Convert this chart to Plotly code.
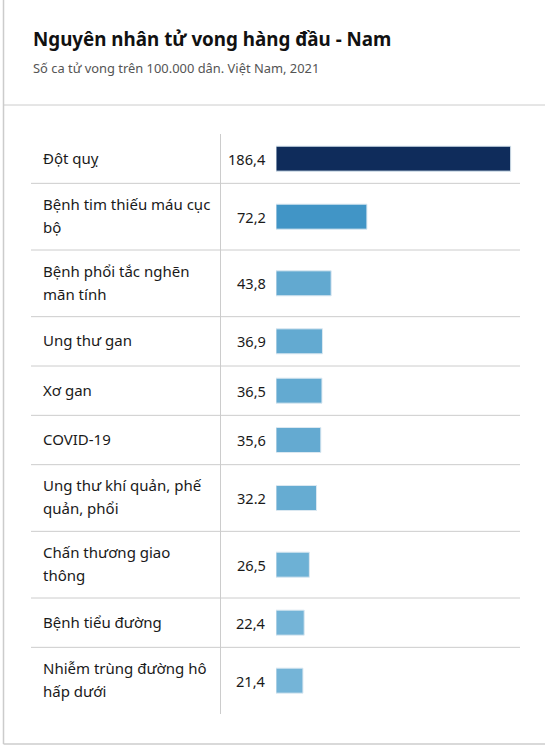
import plotly.graph_objects as go

# Data
categories = [
    "Đột quỵ",
    "Bệnh tim thiếu máu cục<br>bộ",
    "Bệnh phổi tắc nghẽn<br>mãn tính",
    "Ung thư gan",
    "Xơ gan",
    "COVID-19",
    "Ung thư khí quản, phế<br>quản, phổi",
    "Chấn thương giao<br>thông",
    "Bệnh tiểu đường",
    "Nhiễm trùng đường hô<br>hấp dưới",
]
values = [186.4, 72.2, 43.8, 36.9, 36.5, 35.6, 32.2, 26.5, 22.4, 21.4]
value_labels = ["186,4", "72,2", "43,8", "36,9", "36,5", "35,6", "32.2", "26,5", "22,4", "21,4"]
bar_colors = ["#0f2c5b", "#4195c6", "#62a9d0", "#63aad1", "#63aad1",
              "#64aad1", "#66acd2", "#6db1d5", "#74b4d7", "#74b4d7"]

W, H = 545, 746
FONT = "Noto Sans"

# Layout in pixels
TABLE_TOP = 134
ROW_1LINE = 49.33
ROW_2LINE = 66.67
LINE_GAP = 23
BAR_X0 = 276
PX_PER_UNIT = 234.7 / 186.4
GRID = "#cccccc"

# row positions from number of label lines
row_tops, row_centers = [], []
y = TABLE_TOP
for c in categories:
    h = ROW_2LINE if "<br>" in c else ROW_1LINE
    row_tops.append(y)
    row_centers.append(y + h / 2)
    y += h
table_bottom = y

fig = go.Figure()
fig.add_trace(go.Bar(
    x=values, y=row_centers, orientation="h", width=25,
    marker=dict(color=bar_colors, line=dict(color="#dbe8f1", width=1)),
    hoverinfo="skip",
))

annotations = []
shapes = []

# title + subtitle
annotations.append(dict(x=30.5 / W, y=39, xref="paper", yref="y", xanchor="left", yanchor="middle",
                        text="<b>Nguyên nhân tử vong hàng đầu - Nam</b>", showarrow=False,
                        font=dict(family=FONT, size=18.8, color="#111111")))
annotations.append(dict(x=30.5 / W, y=68, xref="paper", yref="y", xanchor="left", yanchor="middle",
                        text="Số ca tử vong trên 100.000 dân. Việt Nam, 2021", showarrow=False,
                        font=dict(family=FONT, size=12.9, color="#555555")))

for i, c in enumerate(categories):
    lines = c.split("<br>")
    offs = [0] if len(lines) == 1 else [-LINE_GAP / 2, LINE_GAP / 2]
    for ln, off in zip(lines, offs):
        annotations.append(dict(x=40.5 / W, y=row_centers[i] + off - 1, xref="paper", yref="y",
                                xanchor="left", yanchor="middle", text=ln, showarrow=False,
                                font=dict(family=FONT, size=15, color="#1a1a1a")))
    annotations.append(dict(x=267.5 / W, y=row_centers[i], xref="paper", yref="y",
                            xanchor="right", yanchor="middle", text=value_labels[i], showarrow=False,
                            font=dict(family=FONT, size=14.6, color="#1a1a1a")))
    if i > 0:
        shapes.append(dict(type="line", xref="paper", yref="y", x0=31 / W, x1=520 / W,
                           y0=row_tops[i], y1=row_tops[i], line=dict(color=GRID, width=1)))

# column divider
shapes.append(dict(type="line", xref="paper", yref="y", x0=220.5 / W, x1=220.5 / W,
                   y0=TABLE_TOP, y1=table_bottom, line=dict(color=GRID, width=1)))
# card borders
shapes.append(dict(type="line", xref="paper", yref="y", x0=3.5 / W, x1=1, y0=105, y1=105,
                   line=dict(color=GRID, width=1)))
shapes.append(dict(type="line", xref="paper", yref="y", x0=3.5 / W, x1=3.5 / W, y0=0, y1=744,
                   line=dict(color=GRID, width=1.5)))
shapes.append(dict(type="line", xref="paper", yref="y", x0=3.5 / W, x1=1, y0=744, y1=744,
                   line=dict(color=GRID, width=1.5)))

fig.update_layout(
    width=W, height=H,
    margin=dict(l=0, r=0, t=0, b=0),
    paper_bgcolor="white", plot_bgcolor="white",
    showlegend=False,
    annotations=annotations, shapes=shapes,
    xaxis=dict(domain=[BAR_X0 / W, 1], range=[0, (W - BAR_X0) / PX_PER_UNIT],
               visible=False, fixedrange=True),
    yaxis=dict(domain=[0, 1], range=[H, 0], visible=False, fixedrange=True),
)

# drop the default page margin so the figure sits at the window's corner
fig.write_html("out.html", config={"displayModeBar": False},
               post_script="document.body.style.margin='0';document.body.style.overflow='hidden';")
